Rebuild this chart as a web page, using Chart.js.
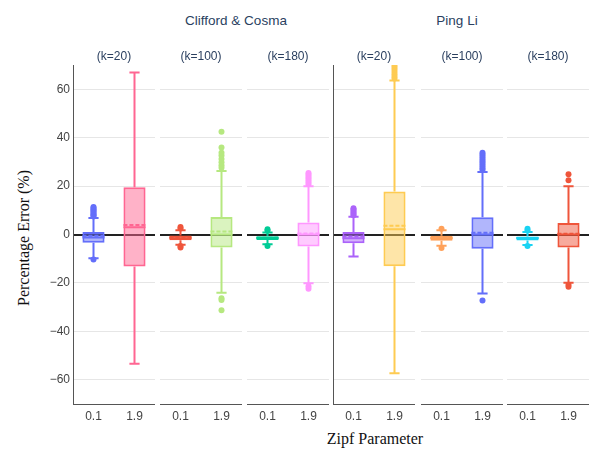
<!DOCTYPE html>
<html>
<head>
<meta charset="utf-8">
<script src="https://cdn.jsdelivr.net/npm/chart.js@4.4.1/dist/chart.umd.min.js"></script>
<style>
    body { margin: 0; background: #fff; }
    #wrap { position: relative; width: 596px; height: 449px; overflow: hidden; }
    #wrap canvas { position: absolute; }
    .label { position: absolute; white-space: nowrap; transform: translate(-50%, -50%); }
    .group { font-family: "Liberation Sans", Arial, sans-serif; font-size: 13.5px; color: #2a3f5f; }
    .axis-title { font-family: "Liberation Serif", "Times New Roman", serif; font-size: 16px; color: #111; }
</style>
</head>
<body>
<div id="wrap">
    <div class="label group" style="left:236px; top:20px;">Clifford &amp; Cosma</div>
    <div class="label group" style="left:457px; top:20px;">Ping Li</div>
    <div class="label axis-title" style="left:24px; top:238px; transform: translate(-50%, -50%) rotate(-90deg);">Percentage Error (%)</div>
    <div class="label axis-title" style="left:375px; top:439px;">Zipf Parameter</div>
</div>
<script>
// x categories, y ticks and panel titles
const zipfParams = ['0.1', '1.9'];
const yTicks = [-60, -40, -20, 0, 20, 40, 60];
const kTitles = ['(k=20)', '(k=100)', '(k=180)', '(k=20)', '(k=100)', '(k=180)'];

// box statistics, one pair [zipf 0.1, zipf 1.9] per panel
const lowerFence = [[-9.8, -53.4], [-4.2, -24.1], [-4.0, -20.1], [-9.1, -57.3], [-4.6, -24.4], [-4.3, -19.9]];
const q1Values = [[-3.4, -13.2], [-2.4, -5.4], [-2.3, -5.0], [-3.6, -13.1], [-2.6, -5.9], [-2.5, -5.4]];
const medianValues = [[-1.2, 3.0], [-1.5, 0.0], [-1.5, 0.0], [-1.6, 2.2], [-1.6, 0.0], [-1.6, 0.0]];
const meanValues = [[-0.5, 3.9], [-1.1, 1.2], [-1.3, 0.4], [-0.8, 3.6], [-1.3, 0.7], [-1.4, 0.3]];
const q3Values = [[1.0, 19.5], [-0.4, 7.2], [-0.7, 5.0], [1.0, 17.8], [-0.5, 7.1], [-0.8, 4.8]];
const upperFence = [[6.8, 66.9], [1.8, 26.2], [0.8, 19.9], [7.3, 63.6], [1.8, 25.8], [1.0, 19.9]];
const outliers = [
    [[7.4, 7.9, 8.4, 8.9, 9.4, 9.9, 10.4, 10.9, 11.4, -10.3], []],
    [[2.5, 3.1, -4.8, -5.4], [27.6, 28.6, 29.8, 31.2, 32.6, 33.8, 35.9, 42.4, -26.3, -27.1, -31.3]],
    [[1.5, 2.2, -4.7], [20.8, 21.6, 22.4, 23.2, 24.0, 24.8, 25.4, -21.4, -22.4]],
    [[7.9, 8.5, 9.1, 9.7, 10.3, 10.8], [64.4, 65.3, 66.2, 67.1, 68.0, 68.9, 69.7]],
    [[2.4, -5.6], [26.6, 27.4, 28.2, 29.0, 29.8, 30.6, 31.4, 32.2, 33.0, 33.8, -27.3]],
    [[1.7, 2.4, -4.7], [22.4, 24.9, -20.8, -21.6]]
];

const colors = [
    ['#636efa', '#ff6692'],
    ['#ef553b', '#b6e880'],
    ['#00cc96', '#ff97ff'],
    ['#ab63fa', '#fecb52'],
    ['#ffa15a', '#636efa'],
    ['#19d3f3', '#ef553b']
];

const panelLeft = [73, 160, 247, 333, 421, 507];
const panelWidth = 82;
const yAxisWidth = 53;
const sans = '"Liberation Sans", Arial, sans-serif';

function fade(hex, a) {
    const n = parseInt(hex.slice(1), 16);
    return 'rgba(' + (n >> 16) + ',' + ((n >> 8) & 255) + ',' + (n & 255) + ',' + a + ')';
}

// whiskers, caps, median and dashed mean drawn on top of the floating bars
const boxWhiskers = {
    id: 'boxWhiskers',
    afterDatasetsDraw(chart) {
        const ds = chart.data.datasets[0];
        const meta = chart.getDatasetMeta(0);
        const y = chart.scales.y;
        const ctx = chart.ctx;
        ctx.save();
        ctx.lineWidth = 2;
        meta.data.forEach(function (bar, i) {
            const half = bar.width / 2;
            const cap = bar.width * 0.23;
            const x = bar.x;
            ctx.strokeStyle = ds.borderColor[i];
            ctx.setLineDash([]);
            ctx.beginPath();
            ctx.moveTo(x, y.getPixelForValue(ds.q3[i]));
            ctx.lineTo(x, y.getPixelForValue(ds.upper[i]));
            ctx.moveTo(x - cap, y.getPixelForValue(ds.upper[i]));
            ctx.lineTo(x + cap, y.getPixelForValue(ds.upper[i]));
            ctx.moveTo(x, y.getPixelForValue(ds.q1[i]));
            ctx.lineTo(x, y.getPixelForValue(ds.lower[i]));
            ctx.moveTo(x - cap, y.getPixelForValue(ds.lower[i]));
            ctx.lineTo(x + cap, y.getPixelForValue(ds.lower[i]));
            ctx.moveTo(x - half, y.getPixelForValue(ds.median[i]));
            ctx.lineTo(x + half, y.getPixelForValue(ds.median[i]));
            ctx.stroke();
            ctx.setLineDash([4, 2]);
            ctx.beginPath();
            ctx.moveTo(x - half, y.getPixelForValue(ds.mean[i]));
            ctx.lineTo(x + half, y.getPixelForValue(ds.mean[i]));
            ctx.stroke();
        });
        ctx.restore();
    }
};

const wrap = document.getElementById('wrap');

for (let p = 0; p < 6; p++) {
    const first = p === 0;
    const canvas = document.createElement('canvas');
    const left = first ? panelLeft[p] - yAxisWidth : panelLeft[p];
    const width = first ? panelWidth + yAxisWidth : panelWidth;
    canvas.width = width;
    canvas.height = 394;
    canvas.style.left = left + 'px';
    canvas.style.top = '40px';
    wrap.appendChild(canvas);

    const datasets = [{
        type: 'bar',
        data: zipfParams.map(function (z, i) { return [q1Values[p][i], q3Values[p][i]]; }),
        q1: q1Values[p],
        q3: q3Values[p],
        median: medianValues[p],
        mean: meanValues[p],
        lower: lowerFence[p],
        upper: upperFence[p],
        backgroundColor: colors[p].map(function (c) { return fade(c, 0.5); }),
        borderColor: colors[p],
        borderWidth: 2,
        borderSkipped: false,
        categoryPercentage: 1,
        barPercentage: 0.54
    }];
    zipfParams.forEach(function (z, i) {
        datasets.push({
            type: 'scatter',
            data: outliers[p][i].map(function (v) { return { x: z, y: v }; }),
            pointRadius: 3,
            pointBorderWidth: 0,
            pointBackgroundColor: colors[p][i]
        });
    });

    new Chart(canvas, {
        type: 'bar',
        data: { labels: zipfParams, datasets: datasets },
        options: {
            responsive: false,
            animation: false,
            layout: { padding: 0, autoPadding: false },
            plugins: {
                legend: { display: false },
                tooltip: { enabled: false },
                title: {
                    display: true,
                    fullSize: false,
                    text: kTitles[p],
                    color: '#2a3f5f',
                    font: { family: sans, size: 12, lineHeight: 1.1, weight: 'normal' },
                    padding: { top: 10.4, bottom: 1.4 }
                }
            },
            scales: {
                x: {
                    type: 'category',
                    offset: true,
                    grid: { display: false, drawTicks: false },
                    border: { display: true, color: '#555', width: 1 },
                    ticks: {
                        color: '#444',
                        padding: 5,
                        font: { family: sans, size: 12 }
                    },
                    afterFit: function (s) {
                        s.height = 30;
                        s.paddingLeft = 0;
                        s.paddingRight = 0;
                    }
                },
                y: {
                    min: -70,
                    max: 70,
                    afterBuildTicks: function (s) {
                        s.ticks = yTicks.map(function (v) { return { value: v }; });
                    },
                    grid: {
                        drawTicks: false,
                        color: function (c) { return c.tick && c.tick.value === 0 ? '#222' : '#e6e6e6'; },
                        lineWidth: function (c) { return c.tick && c.tick.value === 0 ? 2 : 1; }
                    },
                    border: { display: p === 0 || p === 3, color: '#555', width: 1 },
                    ticks: {
                        display: first,
                        padding: 3,
                        color: '#444',
                        font: { family: sans, size: 12 },
                        callback: function (v) { return v < 0 ? '\u2212' + Math.abs(v) : v; }
                    },
                    afterFit: function (s) {
                        s.width = first ? yAxisWidth : 0;
                        s.paddingTop = 0;
                        s.paddingBottom = 0;
                    }
                }
            }
        },
        plugins: [boxWhiskers]
    });
}
</script>
</body>
</html>
